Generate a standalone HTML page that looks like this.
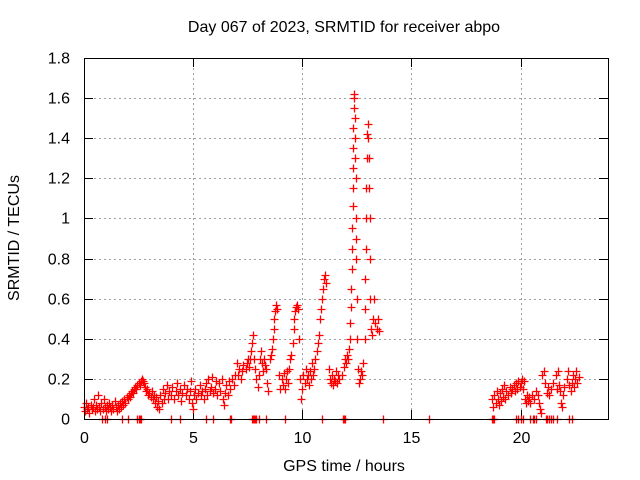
<!DOCTYPE html>
<html><head><meta charset="utf-8"><style>
body{margin:0;background:#fff}
svg{display:block;font-family:"Liberation Sans",sans-serif;font-size:16px}
</style></head><body>
<svg id="chart" width="640" height="480">
<text x="344" y="32" text-anchor="middle">Day 067 of 2023, SRMTID for receiver abpo</text>
<text x="344" y="471" text-anchor="middle">GPS time / hours</text>
<text transform="translate(19,238) rotate(-90)" text-anchor="middle">SRMTID / TECUs</text>
<g id="grid"></g>
<g id="ticks"></g>
<g id="marks"></g>
<rect x="84.5" y="58.5" width="524" height="361" fill="none" stroke="#000" stroke-width="1"/>
</svg>
<script>
const xTicks=[0,5,10,15,20];
const yTicks=[0,0.2,0.4,0.6,0.8,1,1.2,1.4,1.6,1.8];
const yTickLabels=["0","0.2","0.4","0.6","0.8","1","1.2","1.4","1.6","1.8"];
const times=[0,0.05,0.1,0.15,0.2,0.25,0.3,0.35,0.4,0.45,0.5,0.55,0.6,0.65,0.7,0.75,0.8,0.85,0.9,0.95,1.0,1.05,1.1,1.15,1.2,1.25,1.3,1.35,1.4,1.45,1.5,1.55,1.6,1.65,1.7,1.75,1.8,1.85,1.9,1.95,2.0,2.05,2.1,2.15,2.2,2.25,2.3,2.35,2.4,2.45,2.5,2.55,2.6,2.65,2.7,2.75,
2.8,2.85,2.9,2.95,3.0,3.05,3.1,3.15,3.2,3.25,3.3,3.35,3.4,3.45,3.5,3.55,3.6,3.65,3.7,3.8,3.85,3.9,4.0,4.05,4.1,4.2,4.25,4.3,4.4,4.45,4.5,4.6,4.65,4.7,4.8,4.85,4.9,4.95,5.0,5.05,5.1,5.15,5.2,5.3,5.35,5.4,5.5,5.55,5.6,5.65,5.7,5.75,5.8,5.85,5.9,6.0,6.05,6.1,6.2,6.25,6.3,6.35,6.4,6.45,6.5,6.6,6.65,6.7,6.8,6.85,6.9,
7.0,7.05,7.1,7.2,7.25,7.3,7.4,7.45,7.5,7.55,7.6,7.65,7.7,7.75,7.8,7.85,7.9,7.95,8.0,8.05,8.1,8.15,8.2,8.25,8.3,8.35,8.4,8.45,8.5,8.55,8.6,8.65,8.7,8.72,8.75,8.8,8.85,
8.95,9.0,9.05,9.1,9.15,9.2,9.25,9.3,9.35,9.4,9.45,9.5,9.55,9.6,9.62,9.65,9.7,9.75,9.8,9.85,9.9,9.95,10.0,10.05,10.1,10.15,10.2,10.25,10.3,10.35,10.4,10.45,10.5,10.55,10.6,10.65,10.7,10.75,10.8,10.85,10.9,10.95,11.0,11.05,11.1,
11.2,11.25,11.3,11.35,11.4,11.45,11.5,11.55,11.6,11.65,11.7,11.8,11.9,11.95,12.0,12.05,12.1,12.15,
12.18,12.2,12.22,12.24,12.26,12.27,12.28,12.3,12.31,12.32,12.33,12.34,12.36,12.37,12.38,12.4,12.42,12.43,12.44,12.46,12.47,12.48,12.5,12.52,12.55,12.6,12.65,12.7,12.75,12.8,
12.85,12.87,12.88,12.9,12.92,12.93,12.95,12.97,13.0,13.02,13.04,13.06,13.08,13.1,13.12,13.15,13.2,13.25,13.3,13.35,13.4,13.45,13.5,
18.7,18.75,18.8,18.85,18.9,18.95,19.0,19.05,19.1,19.15,19.2,19.25,19.3,19.35,19.4,19.5,19.55,19.6,19.7,19.75,19.8,19.85,19.9,19.95,20.0,20.05,20.1,20.15,20.2,20.25,20.3,20.35,20.4,20.45,20.5,20.6,20.7,20.8,20.85,20.9,20.95,21.0,21.05,21.1,21.2,21.25,21.3,21.4,21.5,21.6,21.65,21.7,21.75,21.8,21.85,21.9,21.95,22.0,22.1,22.15,22.2,22.3,22.35,22.4,22.45,22.5,22.55,22.6,22.65];
const values=[.06,.04,.08,.05,.06,.03,.07,.05,.06,.1,.04,.07,.05,.12,.06,.04,.08,.05,.1,.06,.04,.07,.05,.08,.06,.04,.07,.05,.09,.06,.04,.07,.05,.08,.06,.09,.07,.1,.08,.11,.1,.12,.11,.13,.14,.13,.15,.16,.15,.17,.18,.17,.19,.2,.19,.18,
.16,.14,.15,.12,.13,.11,.14,.1,.12,.08,.11,.06,.09,.05,.12,.08,.15,.1,.13,.17,.1,.14,.12,.16,.1,.14,.18,.12,.15,.09,.13,.17,.12,.15,.1,.14,.19,.08,.05,.12,.15,.1,.13,.17,.12,.14,.1,.15,.18,.12,.2,.14,.16,.21,.13,.15,.19,.12,.18,.14,.2,.1,.07,.13,.17,.12,.19,.15,.2,.17,.22,
.28,.22,.25,.2,.24,.27,.25,.28,.3,.26,.3,.34,.38,.42,.3,.25,.2,.16,.22,.3,.34,.28,.24,.3,.27,.25,.18,.14,.3,.32,.35,.4,.45,.5,.54,.57,.55,
.22,.15,.2,.17,.23,.15,.2,.24,.18,.25,.3,.32,.38,.45,.5,.54,.56,.57,.55,.4,.2,.1,.15,.22,.18,.25,.2,.22,.17,.24,.2,.28,.22,.25,.3,.34,.38,.42,.5,.55,.6,.65,.7,.72,.68,
.25,.2,.18,.22,.17,.2,.19,.24,.18,.22,.2,.22,.26,.3,.28,.32,.3,.35,
.4,.48,.56,.65,.75,.85,.95,1.06,1.15,1.25,1.35,1.45,1.55,1.6,1.62,1.5,1.4,1.3,1.2,1.0,.9,.8,.6,.4,.25,.18,.2,.24,.22,.28,
.4,.55,.7,.85,1.0,1.15,1.3,1.42,1.47,1.4,1.3,1.15,1.0,.8,.6,.45,.42,.5,.6,.48,.45,.5,.44,
.1,.06,.12,.08,.14,.1,.07,.13,.09,.15,.11,.17,.1,.14,.12,.16,.13,.15,.17,.14,.18,.15,.19,.16,.18,.2,.15,.19,.1,.08,.12,.09,.11,.08,.12,.1,.14,.12,.08,.05,.03,.22,.24,.18,.13,.16,.12,.15,.18,.22,.15,.24,.17,.14,.08,.06,.12,.16,.2,.24,.17,.14,.18,.22,.16,.2,.24,.18,.21];
const zeroTimes=[0.83,0.96,1.05,1.74,2.0,2.45,2.5,2.55,2.6,4.0,4.4,5.6,5.9,6.7,6.75,7.7,7.75,7.8,7.85,7.9,8.0,8.35,9.2,10.9,11.85,11.9,11.95,13.7,15.8,18.7,18.75,18.8,19.8,19.9,20.0,20.1,20.45,20.55,20.6,20.7,21.15,21.2,21.3,21.4,21.5,21.65,22.2,22.35];
const X=t=>84+t*21.8333;
const Y=v=>419-v*200.55;
const NS='http://www.w3.org/2000/svg';
const grid=document.getElementById('grid'),ticks=document.getElementById('ticks'),marks=document.getElementById('marks');
function mk(tag,attrs,parent){const e=document.createElementNS(NS,tag);for(const k in attrs)e.setAttribute(k,attrs[k]);parent.appendChild(e);return e;}
xTicks.forEach(t=>{
  const x=Math.round(X(t))+0.5;
  if(t>0){const g=mk('line',{x1:x,x2:x,y1:58,y2:419,stroke:'#a0a0a0','stroke-dasharray':'2,3'},grid);
  
  }
  mk('line',{x1:x,x2:x,y1:419,y2:410,stroke:'#000'},ticks);
  mk('line',{x1:x,x2:x,y1:58,y2:67,stroke:'#000'},ticks);
  const l=mk('text',{x:x,y:443,'text-anchor':'middle'},ticks);l.textContent=String(t);
  
  
});
yTicks.forEach((v,i)=>{
  const y=Math.round(Y(v))+0.5;
  if(v>0&&v<1.8){const g=mk('line',{x1:84,x2:608,y1:y,y2:y,stroke:'#a0a0a0','stroke-dasharray':'2,3'},grid);
  
  }
  mk('line',{x1:84,x2:93,y1:y,y2:y,stroke:'#000'},ticks);
  mk('line',{x1:599,x2:608,y1:y,y2:y,stroke:'#000'},ticks);
  const l=mk('text',{x:70,y:y+5,'text-anchor':'end'},ticks);l.textContent=yTickLabels[i];
  
  
});
function plus(t,v){
  const x=Math.round(X(t))+0.5,y=Math.round(Y(v))+0.5;
  const p=mk('path',{d:`M${x-4} ${y}H${x+4}M${x} ${y-4}V${y+4}`,stroke:'#ff0000','stroke-width':'1.3',fill:'none'},marks);
  
  
}
times.forEach((t,i)=>plus(t,values[i]));
zeroTimes.forEach(t=>plus(t,0));
</script>
</body></html>
